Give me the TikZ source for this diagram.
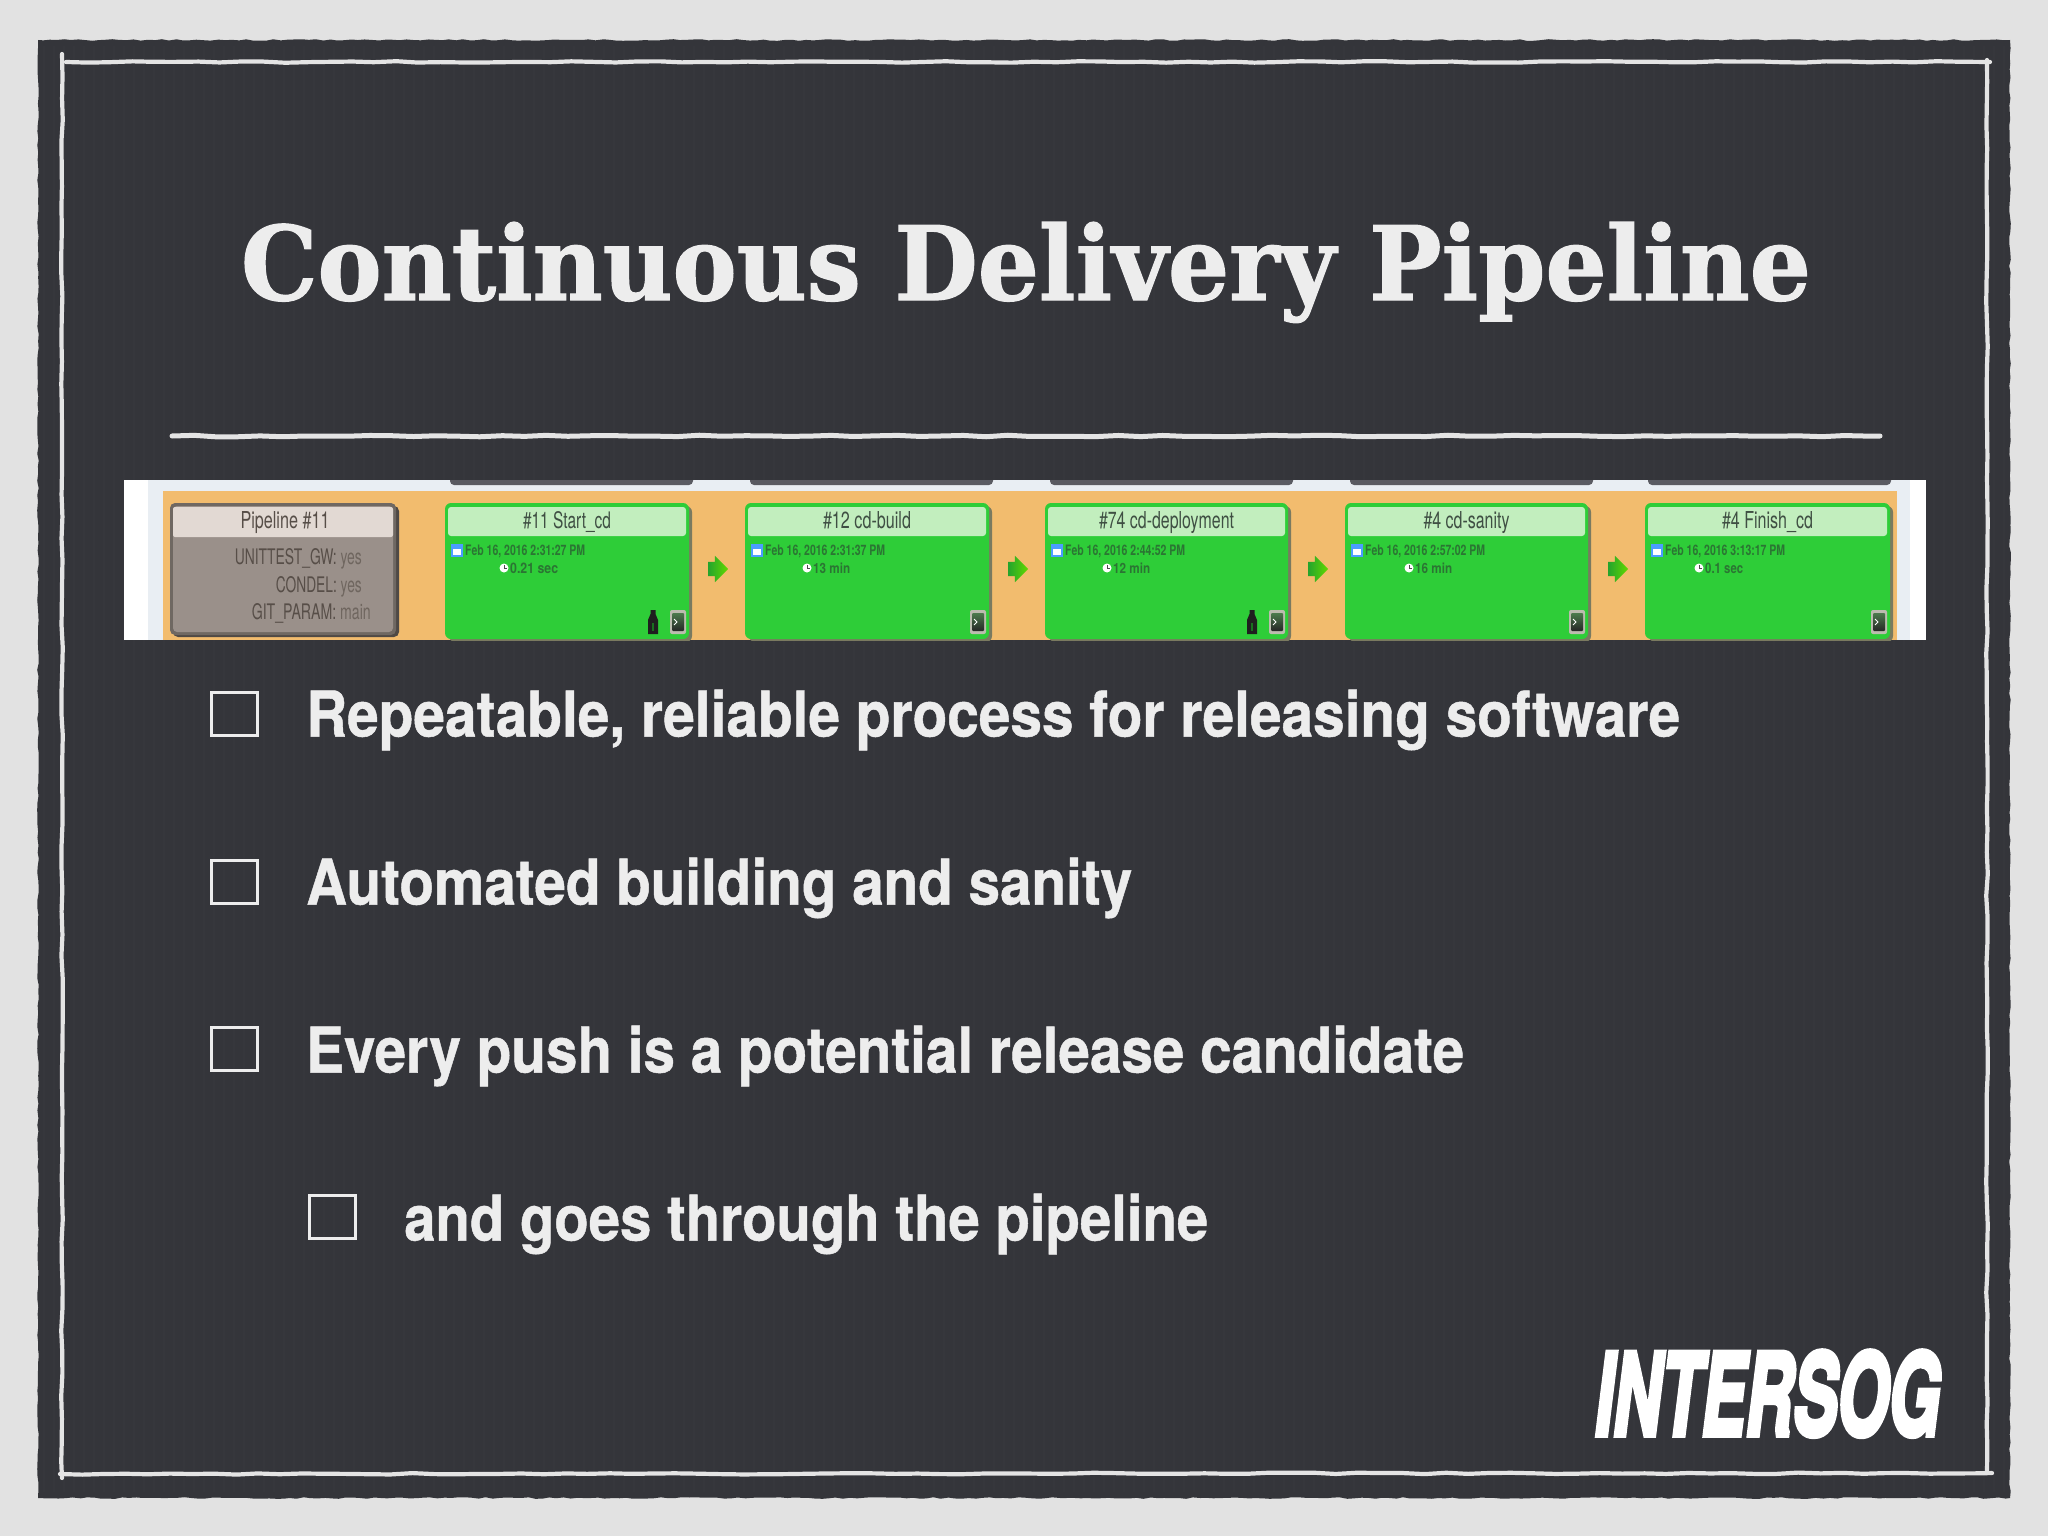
\documentclass[tikz,border=0pt]{standalone}
\usepackage{graphicx}
\usepackage{fontspec}
\usetikzlibrary{shapes.arrows,decorations.pathmorphing}
\setmainfont{TeX Gyre Heros}
\newfontfamily\titlefont[FakeBold=1.2]{DejaVu Serif}
\newfontfamily\bodyfont[FakeBold=0.8]{TeX Gyre Heros}
\newfontfamily\logofont[FakeBold=5]{TeX Gyre Heros}
\definecolor{paper}{HTML}{E2E2E2}
\definecolor{slate}{HTML}{34353A}
\definecolor{slatehi}{HTML}{393A3F}
\definecolor{chalk}{HTML}{E4E4E4}
\definecolor{bodytext}{HTML}{EDEDED}
\definecolor{orangebg}{HTML}{F2BC6E}
\definecolor{okgreen}{HTML}{2ECD38}
\definecolor{okhead}{HTML}{C2EEBE}
\definecolor{okshadow}{HTML}{7A7A60}
\definecolor{pipegray}{HTML}{9A908A}
\definecolor{pipehead}{HTML}{E2D9D3}
\definecolor{pipeedge}{HTML}{6F6862}
\definecolor{pipekey}{HTML}{574E48}
\definecolor{pipeval}{HTML}{6F665F}
\definecolor{heading}{HTML}{3F4F43}
\definecolor{datetext}{HTML}{2B7533}
\definecolor{stripbg}{HTML}{E9EEF3}
\definecolor{barshade}{HTML}{5A5B62}
\newcommand\fit[3]{\resizebox{#1pt}{#2pt}{#3}}
\tikzset{
  bodyline/.style={anchor=base west,inner sep=0pt,text=bodytext,font=\bodyfont\bfseries\fontsize{50}{60}\selectfont},
  checkbox/.style={draw=bodytext,line width=2.8pt,minimum width=46pt,minimum height=43pt,inner sep=0pt},
  rough/.style={decorate,decoration={random steps,segment length=22pt,amplitude=0.8pt}},
  chalkline/.style={rough,draw=chalk,line width=4.2pt,line cap=round},
  smalltext/.style={inner sep=0pt,anchor=base,font=\fontsize{20}{24}\selectfont},
  flowarrow/.style={single arrow,minimum height=20pt,minimum width=26pt,single arrow head extend=6pt,
    inner sep=0pt,shape border rotate=0,left color=black!20!okgreen,right color=green!55!yellow!85!black,draw=none},
}
\begin{document}
\begin{tikzpicture}[x=1pt,y=-1pt]
\useasboundingbox (0,0) rectangle (2048,1536);
\pgfmathsetseed{11}
\fill[paper] (0,0) rectangle (2048,1536);
% slate board
\fill[slate,decorate,decoration={random steps,segment length=7pt,amplitude=0.8pt}] (38,40) rectangle (2010,1498);
\foreach \sx in {44,54,...,2004}{\draw[slatehi,line width=2.5pt,opacity=.5] (\sx,46) -- (\sx,1492);}
% chalk frame
\draw[chalkline] (62,54) -- (62,1478);
\draw[chalkline] (66,62) -- (1990,62);
\draw[chalkline] (1987,60) -- (1987,1472);
\draw[chalkline] (60,1474) -- (1992,1473);
% title
\node[anchor=base,inner sep=0pt,text=bodytext] (title) at (1026,300)
  {\fit{1570}{78}{\titlefont\bfseries\fontsize{80}{96}\selectfont Continuous Delivery Pipeline}};
\draw[chalk,line width=5pt,line cap=round,rough] (172,436) -- (1880,436);
% screenshot
\begin{scope}
\clip (124,480) rectangle (1926,640);
\fill[white] (124,480) rectangle (1926,640);
\fill[stripbg] (148,480) rectangle (1910,640);
\fill[orangebg] (163,491) rectangle (1897,640);
\foreach \bx in {450,750,1050,1350,1648}{
  \fill[barshade,rounded corners=4pt] (\bx,470) rectangle ++(243,15);
}
% pipeline box
\fill[pipeedge!70!black,rounded corners=5pt] (173,506) rectangle (399,637);
\fill[pipeedge,rounded corners=5pt] (170,503) rectangle (396,635);
\fill[pipegray,rounded corners=4pt] (173,506) rectangle (393,632);
\fill[pipehead,rounded corners=2pt] (173,507) rectangle (393,537);
\node[smalltext,text=pipekey] (pipetitle) at (285,528) {\fit{89}{17}{Pipeline \#11}};
\node[inner sep=0pt,anchor=base east] (key1) at (362,564) {\fit{127}{16}{\textcolor{pipekey}{UNITTEST\_GW:} \textcolor{pipeval}{yes}}};
\node[inner sep=0pt,anchor=base east] (key2) at (362,592) {\fit{86}{16}{\textcolor{pipekey}{CONDEL:} \textcolor{pipeval}{yes}}};
\node[inner sep=0pt,anchor=base east] (key3) at (371,619) {\fit{119}{16}{\textcolor{pipekey}{GIT\_PARAM:} \textcolor{pipeval}{main}}};
% stages
\foreach \nm/\bl/\br/\ttl/\tw/\dt/\cx/\dur/\dw in {
 a/445/689/{\#11 Start\_cd}/88/{Feb 16, 2016 2:31:27 PM}/504/{0.21 sec}/48,
 b/745/989/{\#12 cd-build}/88/{Feb 16, 2016 2:31:37 PM}/807/{13 min}/37,
 c/1045/1288/{\#74 cd-deployment}/135/{Feb 16, 2016 2:44:52 PM}/1107/{12 min}/37,
 d/1345/1588/{\#4 cd-sanity}/86/{Feb 16, 2016 2:57:02 PM}/1409/{16 min}/37,
 e/1645/1890/{\#4 Finish\_cd}/91/{Feb 16, 2016 3:13:17 PM}/1699/{0.1 sec}/38}{
  \fill[okshadow,rounded corners=6pt] (\bl+4,506) rectangle (\br+3,642);
  \fill[okgreen,rounded corners=6pt] (\bl,503) rectangle (\br,639);
  \fill[okhead,rounded corners=3pt] (\bl+3,507) rectangle (\br-3,536);
  \node[smalltext,text=heading] (ttl\nm) at ({(\bl+\br)/2},528) {\fit{\tw}{17}{\ttl}};
  \node[inner sep=0pt,anchor=base west,text=datetext] (dt\nm) at (\bl+20,555) {\fit{120}{10.5}{\bfseries\dt}};
  \node[inner sep=0pt,anchor=base west,text=datetext] (du\nm) at (\cx+6,573) {\fit{\dw}{10.5}{\bfseries\dur}};
  % calendar
  \fill[blue!55!cyan!70!white] (\bl+6,544) rectangle ++(12,13);
  \fill[white] (\bl+8,549) rectangle ++(8,6);
  % clock
  \fill[white] (\cx,568) circle (4.5pt);
  \draw[black!70,line width=.9pt] (\cx,565) -- (\cx,568) -- (\cx+2.5,568);
  % terminal
  \fill[okshadow!50!white,rounded corners=2pt] (\br-19,610) rectangle ++(16,24);
  \shade[top color=black!55!green!40!gray,bottom color=black!85,rounded corners=1pt] (\br-17,613) rectangle ++(12,18);
  \draw[white,line width=.8pt] (\br-15,619) -- (\br-12,622) -- (\br-15,625);
}
% bottles
\foreach \bx in {653,1252}{
  \fill[black!88] (\bx-2.5,610) -- (\bx+2.5,610) -- (\bx+2.5,614) -- (\bx+5,620) -- (\bx+5,634) -- (\bx-5,634) -- (\bx-5,620) -- (\bx-2.5,614) -- cycle;
  \fill[okgreen!55!black] (\bx-1.5,623) rectangle (\bx+1,631);
}
% arrows between stages
\foreach \nm/\ax in {p/717,q/1017,r/1317,s/1617}{
  \node[flowarrow] (arr\nm) at (\ax-2.5,569) {\phantom{\rule{4pt}{14pt}}};
}
\end{scope}
% bullets
\node[checkbox] (box1) at (234.5,714) {};
\node[checkbox] (box2) at (234.5,882) {};
\node[checkbox] (box3) at (234.5,1049) {};
\node[checkbox] (box4) at (332.5,1217) {};
\node[bodyline] (line1) at (306,736.5) {\fit{1374}{47}{Repeatable, reliable process for releasing software}};
\node[bodyline] (line2) at (306,904.5) {\fit{826}{47}{Automated building and sanity}};
\node[bodyline] (line3) at (306,1072.5) {\fit{1158}{47}{Every push is a potential release candidate}};
\node[bodyline] (line4) at (404,1240.5) {\fit{804}{47}{and goes through the pipeline}};
% logo
\node[anchor=base west,inner sep=0pt,text=white] (logo) at (1595,1435)
  {\fit{345}{84}{\logofont\bfseries\itshape\fontsize{80}{96}\selectfont INTERSOG}};
\end{tikzpicture}
\end{document}
